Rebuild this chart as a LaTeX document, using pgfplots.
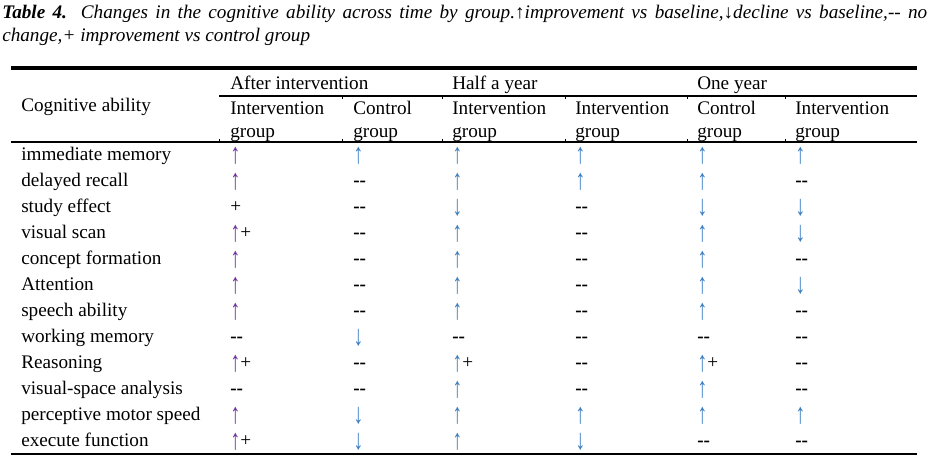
\documentclass[border=0pt]{standalone}
\usepackage{fontspec}
\setmainfont{Liberation Serif}
\usepackage{xcolor}
\usepackage{graphicx}
\usepackage{pgfplots}
\pgfplotsset{compat=1.18}
\definecolor{arrP}{HTML}{7030A0}
\definecolor{arrB}{HTML}{3A7DC0}
\newcommand{\bigarr}[1]{\smash{\raisebox{-2.2pt}{\scalebox{1.05}[1.5]{#1}}}}
\newcommand{\upP}{\textcolor{arrP}{\bigarr{↑}}}
\newcommand{\up}{\textcolor{arrB}{\bigarr{↑}}}
\newcommand{\dn}{\textcolor{arrB}{\bigarr{↓}}}
\newcommand{\nc}{\textbf{-{}-}}
\newcommand{\pl}{+}
\tikzset{cell/.style={anchor=base west, inner sep=0pt, font=\fontsize{14.4}{17}\selectfont}}
\newcommand{\trow}[8]{%
  \node[cell] at (axis cs:21,{161+26*(#1-1)}) {#2};
  \node[cell] at (axis cs:230,{161+26*(#1-1)}) {#3};
  \node[cell] at (axis cs:353,{161+26*(#1-1)}) {#4};
  \node[cell] at (axis cs:452,{161+26*(#1-1)}) {#5};
  \node[cell] at (axis cs:575,{161+26*(#1-1)}) {#6};
  \node[cell] at (axis cs:697,{161+26*(#1-1)}) {#7};
  \node[cell] at (axis cs:795,{161+26*(#1-1)}) {#8};
}
\begin{document}
\begin{tikzpicture}
\begin{axis}[
  scale only axis, width=704.25pt, height=349.5pt,
  xmin=0, xmax=939, ymin=0, ymax=466, y dir=reverse,
  hide axis, clip=false]
% bounding frame (invisible)
\addplot[draw=none] coordinates {(0,0) (939,466)};
% rules
\addplot[black, line width=2.4pt] coordinates {(11,68) (917,68)};
\addplot[black, line width=0.8pt] coordinates {(219,96) (917,96)};
\addplot[black, line width=1pt] coordinates {(11,142) (917,142)};
\addplot[black, line width=1pt] coordinates {(11,454) (917,454)};
% small column ticks
\addplot[black, line width=0.6pt] coordinates {(342,96) (342,99)};
\addplot[black, line width=0.6pt] coordinates {(442,96) (442,99)};
\addplot[black, line width=0.6pt] coordinates {(565,96) (565,99)};
\addplot[black, line width=0.6pt] coordinates {(687,96) (687,99)};
\addplot[black, line width=0.6pt] coordinates {(785,96) (785,99)};
\addplot[black, line width=0.6pt] coordinates {(219,139) (219,142)};
\addplot[black, line width=0.6pt] coordinates {(342,139) (342,142)};
\addplot[black, line width=0.6pt] coordinates {(442,139) (442,142)};
\addplot[black, line width=0.6pt] coordinates {(565,139) (565,142)};
\addplot[black, line width=0.6pt] coordinates {(687,139) (687,142)};
\addplot[black, line width=0.6pt] coordinates {(785,139) (785,142)};
% title
\node[anchor=base west, inner sep=0pt, font=\fontsize{14.4}{17}\selectfont\itshape] at (axis cs:2,18.3)
  {\makebox[693.75pt][s]{\textbf{Table 4.} Changes in the cognitive ability across time by group.↑improvement vs baseline,↓decline vs baseline,-{}- no}};
\node[anchor=base west, inner sep=0pt, font=\fontsize{14.4}{17}\selectfont\itshape] at (axis cs:2,41.7)
  {change,+ improvement vs control group};
% header
\node[cell] at (axis cs:21,111.7) {Cognitive ability};
\node[cell] at (axis cs:230,89.3) {After intervention};
\node[cell] at (axis cs:452,89.3) {Half a year};
\node[cell] at (axis cs:697,89.3) {One year};
\node[cell] at (axis cs:230,115) {Intervention};
\node[cell] at (axis cs:230,137.3) {group};
\node[cell] at (axis cs:353,115) {Control};
\node[cell] at (axis cs:353,137.3) {group};
\node[cell] at (axis cs:452,115) {Intervention};
\node[cell] at (axis cs:452,137.3) {group};
\node[cell] at (axis cs:575,115) {Intervention};
\node[cell] at (axis cs:575,137.3) {group};
\node[cell] at (axis cs:697,115) {Control};
\node[cell] at (axis cs:697,137.3) {group};
\node[cell] at (axis cs:795,115) {Intervention};
\node[cell] at (axis cs:795,137.3) {group};
% body
\trow{1}{immediate memory}{\upP}{\up}{\up}{\up}{\up}{\up}
\trow{2}{delayed recall}{\upP}{\nc}{\up}{\up}{\up}{\nc}
\trow{3}{study effect}{\pl}{\nc}{\dn}{\nc}{\dn}{\dn}
\trow{4}{visual scan}{\upP\pl}{\nc}{\up}{\nc}{\up}{\dn}
\trow{5}{concept formation}{\upP}{\nc}{\up}{\nc}{\up}{\nc}
\trow{6}{Attention}{\upP}{\nc}{\up}{\nc}{\up}{\dn}
\trow{7}{speech ability}{\upP}{\nc}{\up}{\nc}{\up}{\nc}
\trow{8}{working memory}{\nc}{\dn}{\nc}{\nc}{\nc}{\nc}
\trow{9}{Reasoning}{\upP\pl}{\nc}{\up\pl}{\nc}{\up\pl}{\nc}
\trow{10}{visual-space analysis}{\nc}{\nc}{\up}{\nc}{\up}{\nc}
\trow{11}{perceptive motor speed}{\upP}{\dn}{\up}{\up}{\up}{\up}
\trow{12}{execute function}{\upP\pl}{\dn}{\up}{\dn}{\nc}{\nc}
\end{axis}
\end{tikzpicture}
\end{document}
